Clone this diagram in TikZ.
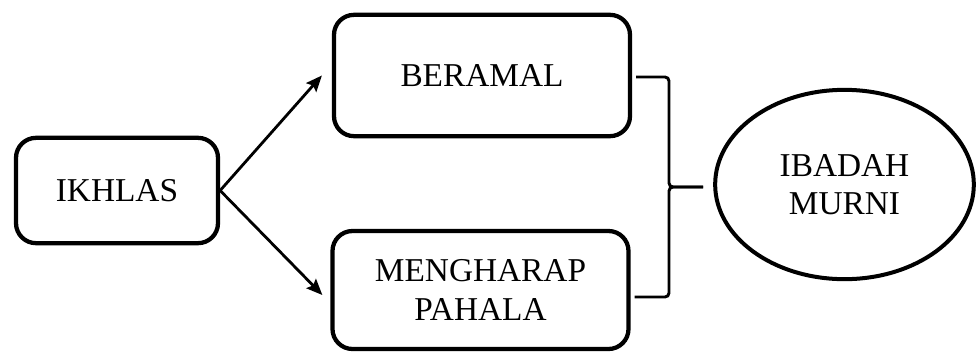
\documentclass[tikz,border=0pt]{standalone}
\usepackage{fontspec}
\setmainfont{Liberation Serif}
\usepackage{tikz}
\usetikzlibrary{shapes.geometric, arrows.meta, positioning}

\begin{document}
\begin{tikzpicture}[
    x=0.75pt, y=-0.75pt,
    stage/.style={draw, line width=3.2pt, rounded corners=15pt, inner sep=0pt, text centered, align=center, font=\fontsize{25}{29}\selectfont},
    goal/.style={draw, ellipse, line width=3pt, inner sep=0pt, minimum width=194pt, minimum height=142pt, align=center, font=\fontsize{25}{29}\selectfont},
    arrow/.style={-{Stealth[length=12pt, width=10pt, inset=2pt]}, line width=2.1pt},
    bracket/.style={line width=2.2pt, rounded corners=3pt}
]

\useasboundingbox (0,0) rectangle (976,355);

% Starting point
\node[stage, minimum width=151.5pt, minimum height=79pt] (ikhlas) at (117, 190.5) {IKHLAS};

% Two branches
\node[stage, minimum width=222pt, minimum height=91pt] (beramal) at (482, 75.5) {BERAMAL};
\node[stage, minimum width=222pt, minimum height=88.5pt] (mengharap) at (480.5, 290) {MENGHARAP\\ PAHALA};

% Result
\node[goal] (ibadah) at (844.5, 184.5) {IBADAH\\ MURNI};

% Arrows
\draw[arrow] (ikhlas.east) -- ([shift={(-10,0)}]beramal.west);
\draw[arrow] (ikhlas.east) -- ([shift={(-8,5)}]mengharap.west);

% Brace
\coordinate (bracetop) at (669, 77);
\coordinate (bracebot) at (669, 297);
\coordinate (bracetip) at (703, 187);
\draw[bracket] ([xshift=3pt]beramal.east |- bracetop) -- (bracetop) -- (bracetop |- bracetip) -- (bracetip);
\draw[bracket] ([xshift=3pt]mengharap.east |- bracebot) -- (bracebot) -- (bracebot |- bracetip) -- (bracetip);

\end{tikzpicture}
\end{document}
